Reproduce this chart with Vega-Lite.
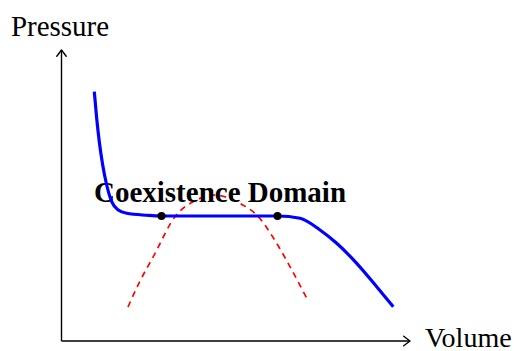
{
  "$schema": "https://vega.github.io/schema/vega-lite/v6.json",
  "width": 516,
  "height": 351,
  "padding": 0,
  "autosize": {"type": "none"},
  "background": "white",
  "config": {"view": {"stroke": null}},
  "datasets": {
    "blue": [
      {"V": 0.656, "P": 4.986},
      {"V": 0.704, "P": 4.454},
      {"V": 0.756, "P": 3.986},
      {"V": 0.824, "P": 3.52},
      {"V": 0.904, "P": 3.12},
      {"V": 1.004, "P": 2.786},
      {"V": 1.136, "P": 2.62},
      {"V": 1.304, "P": 2.554},
      {"V": 1.704, "P": 2.515},
      {"V": 2.0, "P": 2.5},
      {"V": 4.32, "P": 2.5},
      {"V": 4.77, "P": 2.454},
      {"V": 5.17, "P": 2.22},
      {"V": 5.504, "P": 1.954},
      {"V": 5.904, "P": 1.554},
      {"V": 6.304, "P": 1.086},
      {"V": 6.636, "P": 0.686}
    ],
    "red": [
      {"V": 1.33, "P": 0.68},
      {"V": 1.57, "P": 1.2},
      {"V": 1.836, "P": 1.686},
      {"V": 2.27, "P": 2.486},
      {"V": 2.704, "P": 2.82},
      {"V": 3.03, "P": 2.92},
      {"V": 3.57, "P": 2.754},
      {"V": 3.936, "P": 2.486},
      {"V": 4.304, "P": 1.954},
      {"V": 4.57, "P": 1.486},
      {"V": 4.916, "P": 0.834}
    ],
    "dots": [
      {"V": 2.0, "P": 2.5},
      {"V": 4.32, "P": 2.5}
    ],
    "axes": [
      {"V": 0, "P": 0, "V2": 6.97, "P2": 0},
      {"V": 0, "P": 0, "V2": 0, "P2": 5.82}
    ],
    "heads": [
      {"V": 6.97, "P": 0, "dir": "right"},
      {"V": 0, "P": 5.82, "dir": "up"}
    ],
    "ylabel": [
      {"V": -0.03, "P": 6.1, "label": "Pressure"}
    ],
    "xlabel": [
      {"V": 7.27, "P": -0.12, "label": "Volume"}
    ],
    "title": [
      {"V": 3.17, "P": 2.79, "label": "Coexistence Domain"}
    ]
  },
  "layer": [
    {
      "data": {"name": "red"},
      "mark": {"type": "line", "interpolate": "monotone", "color": "#ff0000", "strokeWidth": 1.7, "strokeDash": [6, 5]},
      "encoding": {
        "x": {"field": "V", "type": "quantitative", "scale": {"domain": [-1.23, 9.09], "nice": false, "zero": false}, "axis": null},
        "y": {"field": "P", "type": "quantitative", "scale": {"domain": [-0.2, 6.82], "nice": false, "zero": false}, "axis": null}
      }
    },
    {
      "data": {"name": "title"},
      "mark": {"type": "text", "font": "Liberation Serif", "fontSize": 29, "fontWeight": "bold", "align": "center", "baseline": "alphabetic", "color": "black"},
      "encoding": {
        "x": {"field": "V", "type": "quantitative"},
        "y": {"field": "P", "type": "quantitative"},
        "text": {"field": "label"}
      }
    },
    {
      "data": {"name": "blue"},
      "mark": {"type": "line", "interpolate": "monotone", "color": "#0000ff", "strokeWidth": 3.2},
      "encoding": {
        "x": {"field": "V", "type": "quantitative"},
        "y": {"field": "P", "type": "quantitative"}
      }
    },
    {
      "data": {"name": "dots"},
      "mark": {"type": "point", "shape": "circle", "filled": true, "color": "black", "opacity": 1, "size": 64},
      "encoding": {
        "x": {"field": "V", "type": "quantitative"},
        "y": {"field": "P", "type": "quantitative"}
      }
    },
    {
      "data": {"name": "axes"},
      "mark": {"type": "rule", "color": "black", "strokeWidth": 1.4},
      "encoding": {
        "x": {"field": "V", "type": "quantitative"},
        "y": {"field": "P", "type": "quantitative"},
        "x2": {"field": "V2"},
        "y2": {"field": "P2"}
      }
    },
    {
      "data": {"name": "heads"},
      "transform": [{"filter": "datum.dir === 'up'"}],
      "mark": {"type": "point", "shape": "M-0.9,1.2L0,0L0.9,1.2", "filled": false, "color": "black", "strokeWidth": 1.4, "opacity": 1, "size": 110, "strokeCap": "round", "strokeJoin": "round"},
      "encoding": {
        "x": {"field": "V", "type": "quantitative"},
        "y": {"field": "P", "type": "quantitative"}
      }
    },
    {
      "data": {"name": "heads"},
      "transform": [{"filter": "datum.dir === 'right'"}],
      "mark": {"type": "point", "shape": "M-1.2,-0.9L0,0L-1.2,0.9", "filled": false, "color": "black", "strokeWidth": 1.4, "opacity": 1, "size": 110, "strokeCap": "round", "strokeJoin": "round"},
      "encoding": {
        "x": {"field": "V", "type": "quantitative"},
        "y": {"field": "P", "type": "quantitative"}
      }
    },
    {
      "data": {"name": "ylabel"},
      "mark": {"type": "text", "font": "Liberation Serif", "fontSize": 29, "align": "center", "baseline": "alphabetic", "color": "black"},
      "encoding": {
        "x": {"field": "V", "type": "quantitative"},
        "y": {"field": "P", "type": "quantitative"},
        "text": {"field": "label"}
      }
    },
    {
      "data": {"name": "xlabel"},
      "mark": {"type": "text", "font": "Liberation Serif", "fontSize": 28, "align": "left", "baseline": "alphabetic", "color": "black"},
      "encoding": {
        "x": {"field": "V", "type": "quantitative"},
        "y": {"field": "P", "type": "quantitative"},
        "text": {"field": "label"}
      }
    }
  ]
}
